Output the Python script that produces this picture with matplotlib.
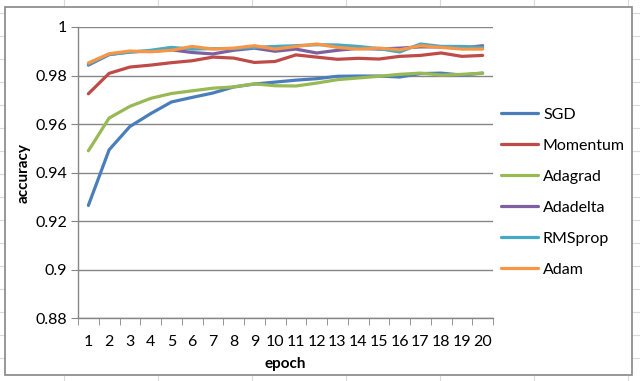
import matplotlib
matplotlib.use("Agg")
import matplotlib.pyplot as plt
from matplotlib.lines import Line2D
from matplotlib.patches import Rectangle
from matplotlib.ticker import FixedLocator, FuncFormatter

plt.rcParams['font.family'] = ['Lato', 'DejaVu Sans']

epochs = list(range(1, 21))
sgd = [0.9265, 0.9494, 0.9590, 0.9643, 0.9691, 0.9710, 0.9728, 0.9753, 0.9765, 0.9773,
       0.9781, 0.9787, 0.9797, 0.9798, 0.9798, 0.9794, 0.9808, 0.9810, 0.9802, 0.9810]
momentum = [0.9725, 0.9809, 0.9835, 0.9843, 0.9853, 0.9861, 0.9876, 0.9872, 0.9854, 0.9858,
            0.9885, 0.9876, 0.9867, 0.9871, 0.9868, 0.9879, 0.9883, 0.9893, 0.9879, 0.9883]
adagrad = [0.9490, 0.9625, 0.9673, 0.9706, 0.9726, 0.9737, 0.9748, 0.9753, 0.9766, 0.9758,
           0.9757, 0.9769, 0.9783, 0.9790, 0.9797, 0.9805, 0.9810, 0.9802, 0.9805, 0.9810]
adadelta = [0.9843, 0.9886, 0.9898, 0.9900, 0.9906, 0.9895, 0.9889, 0.9904, 0.9913, 0.9900,
            0.9909, 0.9893, 0.9904, 0.9912, 0.9909, 0.9913, 0.9918, 0.9918, 0.9913, 0.9923]
rmsprop = [0.9847, 0.9887, 0.9896, 0.9904, 0.9916, 0.9909, 0.9911, 0.9911, 0.9916, 0.9920,
           0.9923, 0.9927, 0.9926, 0.9920, 0.9911, 0.9897, 0.9930, 0.9920, 0.9920, 0.9916]
adam = [0.9852, 0.9890, 0.9901, 0.9898, 0.9904, 0.9920, 0.9909, 0.9913, 0.9923, 0.9909,
        0.9920, 0.9930, 0.9916, 0.9909, 0.9913, 0.9906, 0.9923, 0.9916, 0.9909, 0.9909]

series_names = ["SGD", "Momentum", "Adagrad", "Adadelta", "RMSprop", "Adam"]
series_values = [sgd, momentum, adagrad, adadelta, rmsprop, adam]
colors = ["#4A7EBB", "#BE4B48", "#98B954", "#7D60A0", "#46AAC5", "#F79646"]
y_ticks = [0.88, 0.90, 0.92, 0.94, 0.96, 0.98, 1.00]

W, H = 640, 381
fig = plt.figure(figsize=(6.4, 3.81), dpi=100)
fig.patch.set_facecolor("white")

def px(x, y):
    return x / W, 1 - y / H

# spreadsheet cell grid in background
cell = "#dadada"
for x in range(64, 640, 94):
    fig.add_artist(Line2D([x / W, x / W], [0, 1], color=cell, lw=0.8, zorder=0))
for y in range(13, 381, 23):
    fig.add_artist(Line2D([0, 1], [1 - y / H, 1 - y / H], color=cell, lw=0.8, zorder=0))

# chart area
x0, y0 = px(5, 375)
x1, y1 = px(632, 7)
fig.add_artist(Rectangle((x0, y0), x1 - x0, y1 - y0, facecolor="white",
                         edgecolor="#868686", lw=1.2, zorder=1))

ax = fig.add_axes([78 / W, (H - 318.3) / H, 415 / W, (318.3 - 27) / H], zorder=2)
ax.set_facecolor("none")

for name, vals, c in zip(series_names, series_values, colors):
    ax.plot(epochs, vals, color=c, lw=2.3, label=name, solid_capstyle="round",
            solid_joinstyle="round")

ax.set_xlim(0.5, 20.5)
ax.set_ylim(0.88, 1.0)
ax.set_yticks(y_ticks)
ax.yaxis.set_major_formatter(FuncFormatter(lambda v, p: f"{v:.2f}".rstrip("0").rstrip(".")))
ax.set_xticks(epochs)
ax.set_xticklabels([str(e) for e in epochs])
ax.xaxis.set_minor_locator(FixedLocator([e + 0.5 for e in [0] + epochs]))
ax.tick_params(axis="x", which="major", length=0, pad=12, labelsize=11.5)
ax.tick_params(axis="x", which="minor", length=5, color="#868686", direction="out")
ax.tick_params(axis="y", which="major", length=5, color="#868686", labelsize=11.5, pad=3)

ax.grid(axis="y", color="#868686", lw=1.0)
ax.set_axisbelow(True)
for s in ["top", "right"]:
    ax.spines[s].set_visible(False)
for s in ["left", "bottom"]:
    ax.spines[s].set_color("#868686")
    ax.spines[s].set_linewidth(1.0)

ax.set_xlabel("epoch", fontweight="bold", fontsize=11, labelpad=6)
ax.set_ylabel("accuracy", fontweight="bold", fontsize=11, labelpad=3)

leg = ax.legend(loc="upper left", bbox_to_anchor=(1.005, 0.745), frameon=False,
                fontsize=11.5, handlelength=2.3, handletextpad=0.3, labelspacing=1.05,
                borderaxespad=0)

fig.savefig("out.png", dpi=100)
